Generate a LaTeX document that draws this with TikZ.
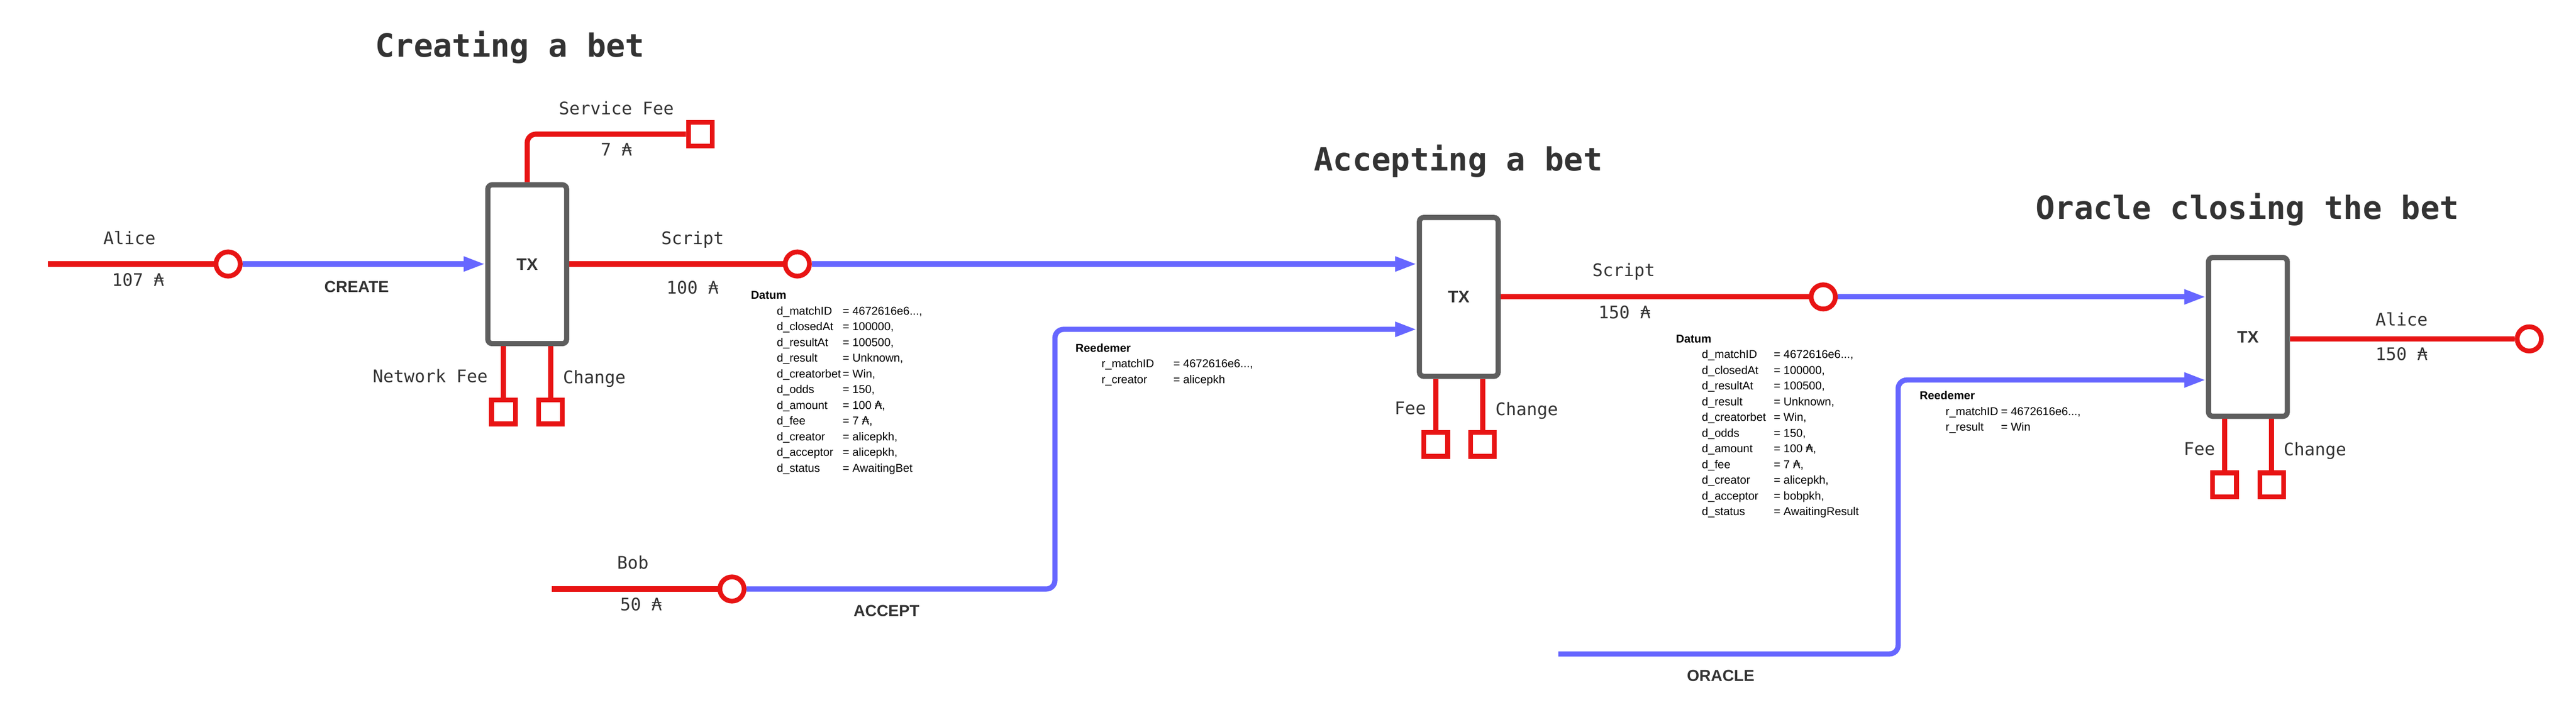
\documentclass[tikz,border=0pt]{standalone}
\usepackage{fontspec}
\setmainfont{Liberation Sans}
\newfontfamily\monofont{DejaVu Sans Mono}
\newfontfamily\adafont{DejaVu Sans}
\usepackage{tikz}
\usetikzlibrary{arrows.meta,calc}

\definecolor{payred}{HTML}{E81414}
\definecolor{flowblue}{HTML}{6666FF}
\definecolor{boxgray}{HTML}{5E5E5E}
\definecolor{txtgray}{HTML}{333333}
\newcommand{\ada}{{\adafont ₳}}

\tikzset{
  tx/.style={draw=boxgray, fill=white, line width=0.12cm, rounded corners=0.1cm,
    minimum width=1.82cm, minimum height=3.67cm, text=txtgray,
    font=\fontsize{11}{13}\selectfont\bfseries},
  utxo/.style={circle, draw=payred, fill=white, line width=0.11cm, minimum size=0.56cm, inner sep=0pt},
  sink/.style={rectangle, draw=payred, fill=white, line width=0.11cm, minimum size=0.55cm, inner sep=0pt},
  pay/.style={draw=payred, line width=0.12cm, rounded corners=0.2cm},
  flow/.style={draw=flowblue, line width=0.12cm, rounded corners=0.2cm, -{Triangle[length=0.5cm,width=0.32cm]}},
  ttl/.style={anchor=base, text=txtgray, font=\monofont\bfseries\fontsize{21}{25}\selectfont},
  lbl/.style={anchor=base, text=txtgray, font=\monofont\fontsize{11.4}{13}\selectfont},
  act/.style={anchor=base, text=txtgray, font=\bfseries\fontsize{10.5}{12}\selectfont},
  datum/.style={anchor=base west, inner sep=0pt, font=\fontsize{7.5}{10.33}\selectfont}
}

\begin{document}
\begin{tikzpicture}[x=1cm,y=-1cm]
            \useasboundingbox (0,0) rectangle (59.51,16.56);

            % 标题
            \node[ttl] (T1) at (11.78,1.32) {Creating a bet};
            \node[ttl] (T2) at (33.69,3.94) {Accepting a bet};
            \node[ttl] (T3) at (51.92,5.06) {Oracle closing the bet};

            % 交易 TX
            \node[tx] (TX1) at (12.18,6.105) {TX};
            \node[tx] (TX2) at (33.70,6.86) {TX};
            \node[tx] (TX3) at (51.93,7.785) {TX};

            % 输出点 (圆)
            \node[utxo] (A1) at (5.27,6.10) {};
            \node[utxo] (S1) at (18.42,6.10) {};
            \node[utxo] (B1) at (16.91,13.61) {};
            \node[utxo] (S2) at (42.12,6.86) {};
            \node[utxo] (A3) at (58.43,7.83) {};

            % 费用与找零 (方块)
            \node[sink] (SF1) at (16.18,3.10) {};
            \node[sink] (NF1) at (11.63,9.52) {};
            \node[sink] (CH1) at (12.72,9.52) {};
            \node[sink] (FE2) at (33.17,10.27) {};
            \node[sink] (CH2) at (34.25,10.27) {};
            \node[sink] (FE3) at (51.39,11.20) {};
            \node[sink] (CH3) at (52.48,11.20) {};

            % 拐点
            \coordinate (AIn) at (1.11,6.10);
            \coordinate (BIn) at (12.75,13.61);
            \coordinate (RD1) at (24.37,7.61);
            \coordinate (RD2) at (43.85,8.78);
            \coordinate (OR) at (36.00,15.11);

            % 红线 (UTXO)
            \draw[pay] (AIn) -- (A1);
            \draw[pay] (BIn) -- (B1);
            \draw[pay] (TX1.east |- S1) -- (S1);
            \draw[pay] (TX2.east |- S2) -- (S2);
            \draw[pay] (TX3.east |- A3) -- (A3);
            \draw[pay] (TX1.north) |- (SF1.west);
            \draw[pay] (TX1.south -| NF1) -- (NF1.north);
            \draw[pay] (TX1.south -| CH1) -- (CH1.north);
            \draw[pay] (TX2.south -| FE2) -- (FE2.north);
            \draw[pay] (TX2.south -| CH2) -- (CH2.north);
            \draw[pay] (TX3.south -| FE3) -- (FE3.north);
            \draw[pay] (TX3.south -| CH3) -- (CH3.north);

            % 蓝线 (花费)
            \draw[flow] (A1) -- (A1 -| TX1.west);
            \draw[flow] (S1) -- (S1 -| TX2.west);
            \draw[flow] (B1) -| (RD1) -- (RD1 -| TX2.west);
            \draw[flow] (S2) -- (S2 -| TX3.west);
            \draw[flow] (OR) -| (RD2) -- (RD2 -| TX3.west);

            % 标注
            \node[lbl] (L1) at (2.99,5.65) {Alice};
            \node[lbl] (L2) at (3.19,6.61) {107 ₳};
            \node[lbl] (L3) at (14.24,2.65) {Service Fee};
            \node[lbl] (L4) at (14.24,3.60) {7 ₳};
            \node[lbl] (L5) at (16.00,5.65) {Script};
            \node[lbl] (L6) at (16.00,6.79) {100 ₳};
            \node[lbl] (L7) at (9.94,8.84) {Network Fee};
            \node[lbl] (L8) at (13.73,8.86) {Change};
            \node[lbl] (L9) at (14.62,13.15) {Bob};
            \node[lbl] (L10) at (14.81,14.11) {50 ₳};
            \node[lbl] (L11) at (37.51,6.39) {Script};
            \node[lbl] (L12) at (37.53,7.36) {150 ₳};
            \node[lbl] (L13) at (32.58,9.58) {Fee};
            \node[lbl] (L14) at (35.27,9.60) {Change};
            \node[lbl] (L15) at (55.48,7.53) {Alice};
            \node[lbl] (L16) at (55.48,8.32) {150 ₳};
            \node[lbl] (L17) at (50.81,10.51) {Fee};
            \node[lbl] (L18) at (53.48,10.53) {Change};

            \node[act] (K1) at (8.24,6.75) {CREATE};
            \node[act] (K2) at (20.48,14.24) {ACCEPT};
            \node[act] (K3) at (39.75,15.74) {ORACLE};

            % Datum 与 Reedemer
            \node[datum] (D1) at (17.34,6.91) {\begin{tabular}[t]{@{\hspace{0.6cm}}p{1.52cm}@{}l@{}}
                \multicolumn{2}{@{}l@{}}{\textbf{Datum}}\\
                d\_matchID & = 4672616e6...,\\
                d\_closedAt & = 100000,\\
                d\_resultAt & = 100500,\\
                d\_result & = Unknown,\\
                d\_creatorbet & = Win,\\
                d\_odds & = 150,\\
                d\_amount & = 100 \ada,\\
                d\_fee & = 7 \ada,\\
                d\_creator & = alicepkh,\\
                d\_acceptor & = alicepkh,\\
                d\_status & = AwaitingBet
              \end{tabular}};
            \node[datum] (R1) at (24.84,8.13) {\begin{tabular}[t]{@{\hspace{0.6cm}}p{1.66cm}@{}l@{}}
                \multicolumn{2}{@{}l@{}}{\textbf{Reedemer}}\\
                r\_matchID & = 4672616e6...,\\
                r\_creator & = alicepkh
              \end{tabular}};
            \node[datum] (D2) at (38.71,7.92) {\begin{tabular}[t]{@{\hspace{0.6cm}}p{1.66cm}@{}l@{}}
                \multicolumn{2}{@{}l@{}}{\textbf{Datum}}\\
                d\_matchID & = 4672616e6...,\\
                d\_closedAt & = 100000,\\
                d\_resultAt & = 100500,\\
                d\_result & = Unknown,\\
                d\_creatorbet & = Win,\\
                d\_odds & = 150,\\
                d\_amount & = 100 \ada,\\
                d\_fee & = 7 \ada,\\
                d\_creator & = alicepkh,\\
                d\_acceptor & = bobpkh,\\
                d\_status & = AwaitingResult
              \end{tabular}};
            \node[datum] (R2) at (44.34,9.23) {\begin{tabular}[t]{@{\hspace{0.6cm}}p{1.28cm}@{}l@{}}
                \multicolumn{2}{@{}l@{}}{\textbf{Reedemer}}\\
                r\_matchID & = 4672616e6...,\\
                r\_result & = Win
              \end{tabular}};

        \end{tikzpicture}
\end{document}
